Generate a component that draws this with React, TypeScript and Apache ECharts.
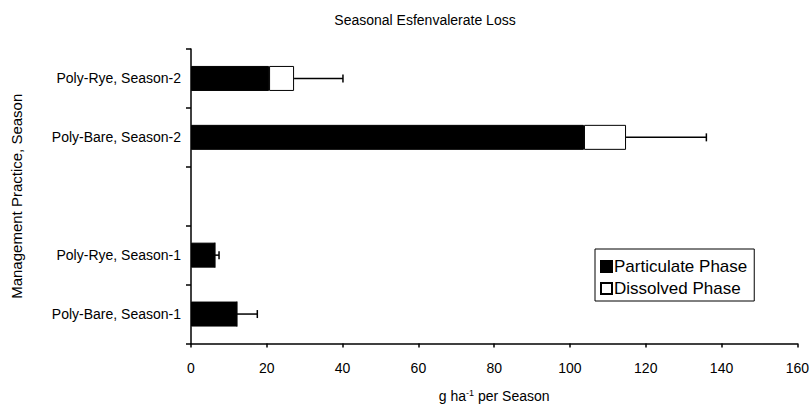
import React, { useEffect, useRef } from "react";
import * as echarts from "echarts";

// Categories listed bottom to top; the empty slot separates the two seasons.
const categories = [
  "Poly-Bare, Season-1",
  "Poly-Rye, Season-1",
  "",
  "Poly-Bare, Season-2",
  "Poly-Rye, Season-2",
];
// g ha^-1 per season
const particulate: (number | string)[] = [12.1, 6.3, "-", 103.7, 20.6];
const dissolved: (number | string)[] = [0, 0, "-", 11.1, 6.6];
// upper end of the error bar (total + SD)
const errorUpper: (number | null)[] = [17.5, 7.4, null, 136, 40.1];

const xTicks = { min: 0, max: 160, interval: 20 };

export default function App() {
  const ref = useRef<HTMLDivElement>(null);

  useEffect(() => {
    if (!ref.current) return;
    const chart = echarts.init(ref.current, undefined, { renderer: "svg" });
    const font = "Liberation Sans, Arial, sans-serif";

    const totals = categories.map((_, i) => {
      const p = typeof particulate[i] === "number" ? (particulate[i] as number) : 0;
      const d = typeof dissolved[i] === "number" ? (dissolved[i] as number) : 0;
      return p + d;
    });
    const errData = categories
      .map((_, i) => (errorUpper[i] == null ? null : [i, totals[i], errorUpper[i]]))
      .filter((d) => d !== null);

    chart.setOption({
      animation: false,
      textStyle: { fontFamily: font, color: "#000" },
      title: {
        text: "Seasonal Esfenvalerate Loss",
        left: 420,
        textAlign: "center",
        top: 8,
        textStyle: { fontSize: 14, fontWeight: "normal", color: "#000", fontFamily: font },
      },
      legend: {
        orient: "vertical",
        left: 595,
        top: 249,
        padding: [9, 7, 4, 5],
        itemGap: 5,
        itemWidth: 11,
        itemHeight: 11,
        borderColor: "#000",
        borderWidth: 1,
        borderRadius: 0,
        icon: "rect",
        textStyle: { fontSize: 17, color: "#000", fontFamily: font, padding: [0, 0, 0, -3] },
        data: ["Particulate Phase", "Dissolved Phase"],
      },
      grid: { left: 191, right: 14, top: 49, bottom: 55 },
      xAxis: {
        type: "value",
        min: xTicks.min,
        max: xTicks.max,
        interval: xTicks.interval,
        splitLine: { show: false },
        axisLine: { show: true, lineStyle: { color: "#000", width: 1.5 } },
        axisTick: { show: true, length: 4, lineStyle: { color: "#000", width: 1.5 } },
        axisLabel: { fontSize: 14, color: "#000", margin: 17, fontFamily: font },
        name: "{a|g ha}{s|-1}{a| per Season}",
        nameLocation: "middle",
        nameGap: 45,
        nameTextStyle: {
          rich: {
            a: { fontSize: 14, color: "#000", fontFamily: font },
            s: { fontSize: 9, color: "#000", fontFamily: font, verticalAlign: "top", padding: [0, 0, 6, 0] },
          },
        },
      },
      yAxis: {
        type: "category",
        data: categories,
        axisLine: { show: true, lineStyle: { color: "#000", width: 1.5 } },
        axisTick: { show: true, length: 5, lineStyle: { color: "#000", width: 1.5 } },
        axisLabel: { fontSize: 14, color: "#000", margin: 10, fontFamily: font },
        name: "Management Practice, Season",
        nameLocation: "middle",
        nameGap: 167,
        nameRotate: 90,
        nameTextStyle: { fontSize: 15, color: "#000", fontFamily: font },
      },
      series: [
        {
          name: "Particulate Phase",
          type: "bar",
          stack: "loss",
          barWidth: 25,
          data: particulate,
          itemStyle: { color: "#000", borderColor: "#000", borderWidth: 1 },
        },
        {
          name: "Dissolved Phase",
          type: "bar",
          stack: "loss",
          barWidth: 25,
          data: dissolved,
          itemStyle: { color: "#fff", borderColor: "#000", borderWidth: 1 },
        },
        {
          name: "error",
          type: "custom",
          data: errData,
          encode: { y: 0, x: [1, 2] },
          z: 5,
          renderItem: (_params: any, api: any) => {
            const idx = api.value(0);
            const start = api.coord([api.value(1), idx]);
            const end = api.coord([api.value(2), idx]);
            const half = 4;
            const style = { stroke: "#000", lineWidth: 1.5 };
            return {
              type: "group",
              children: [
                { type: "line", shape: { x1: start[0], y1: start[1], x2: end[0], y2: end[1] }, style },
                { type: "line", shape: { x1: end[0], y1: end[1] - half, x2: end[0], y2: end[1] + half }, style },
              ],
            };
          },
        },
      ],
    });

    return () => chart.dispose();
  }, []);

  return <div ref={ref} style={{ position: "absolute", left: 0, top: 0, width: 812, height: 408 }} />;
}
